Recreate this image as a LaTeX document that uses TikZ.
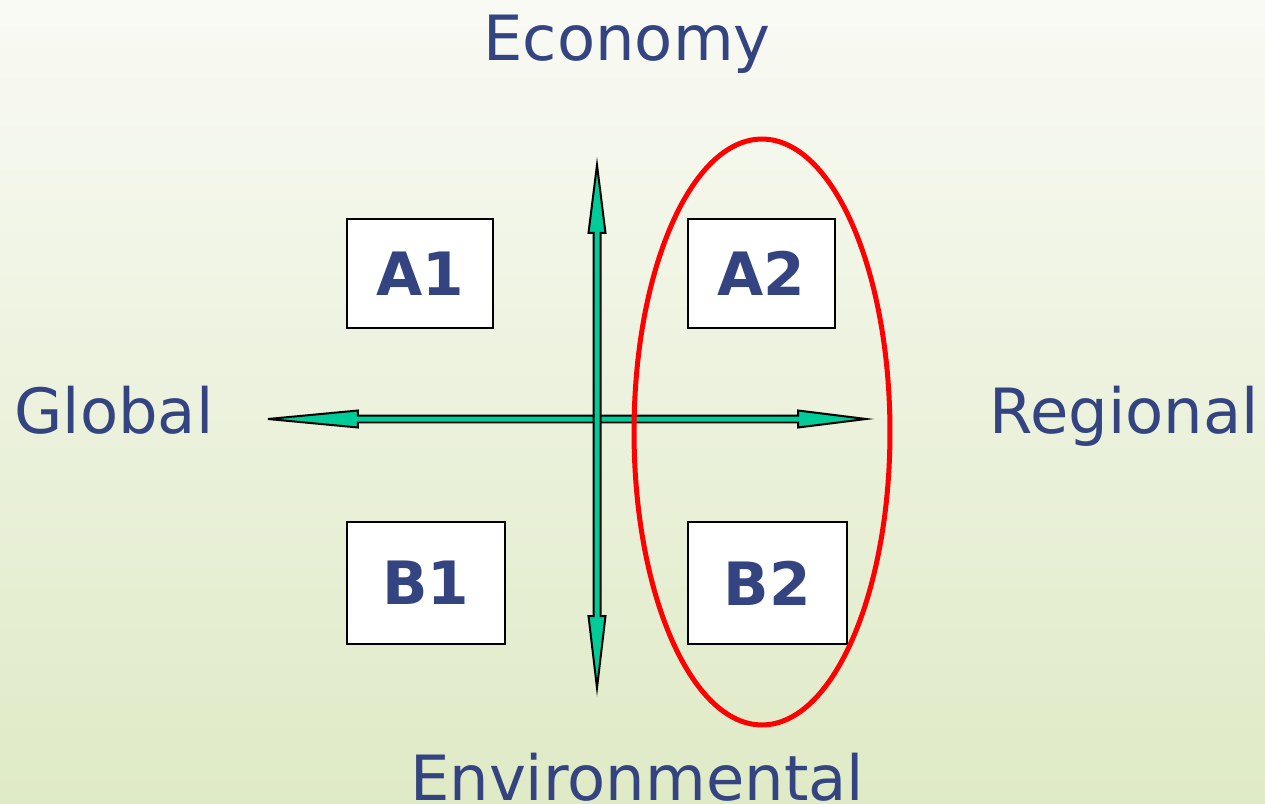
\documentclass[tikz,border=0pt]{standalone}
\usepackage{fontspec}
\setmainfont{DejaVu Sans}
\usetikzlibrary{calc,shapes.geometric}
\definecolor{labelblue}{HTML}{334480}
\definecolor{axisgreen}{HTML}{00CC99}
\definecolor{bgtop}{HTML}{F9FAF4}
\definecolor{bgbottom}{HTML}{DFEAC6}
\tikzset{
  axis label/.style={text=labelblue,font=\fontsize{35.5}{42}\selectfont,anchor=base},
  scen box/.style={draw,line width=0.04cm,fill=white,text=labelblue,
    font=\fontsize{34}{40}\selectfont\bfseries,inner sep=0pt},
  axis arrow/.style={fill=axisgreen,draw=black,line width=0.04cm,line join=miter},
}
% block arrow with a head at both ends: start, end, head length at start, head length at end
\newcommand{\blockarrow}[4]{%
  \filldraw[axis arrow] (#1)
    -- ($(#1)!#3!(#2)!0.17cm!90:(#2)$)
    -- ($(#1)!#3!(#2)!0.07cm!90:(#2)$)
    -- ($(#2)!#4!(#1)!0.07cm!-90:(#1)$)
    -- ($(#2)!#4!(#1)!0.17cm!-90:(#1)$)
    -- (#2)
    -- ($(#2)!#4!(#1)!0.17cm!90:(#1)$)
    -- ($(#2)!#4!(#1)!0.07cm!90:(#1)$)
    -- ($(#1)!#3!(#2)!0.07cm!-90:(#2)$)
    -- ($(#1)!#3!(#2)!0.17cm!-90:(#2)$)
    -- cycle;}

\begin{document}
\begin{tikzpicture}[x=0.02cm,y=-0.02cm]
    \shade[top color=bgtop,bottom color=bgbottom] (0,0) rectangle (1265,804);
    \useasboundingbox (0,0) rectangle (1265,804);

    % axis labels
    \node[axis label] (economy) at (627,61) {Economy};
    \node[axis label] (environ) at (637,800) {Environmental};
    \node[axis label] (global) at (114,433) {Global};
    \node[axis label] (regional) at (1124,433) {Regional};

    % arrows
    \coordinate (westtip) at (268,419);
    \coordinate (easttip) at (866,419);
    \coordinate (northtip) at (597,165);
    \coordinate (southtip) at (597,688);
    \blockarrow{westtip}{easttip}{1.8cm}{1.36cm}
    \blockarrow{northtip}{southtip}{1.36cm}{1.44cm}

    % scenario boxes
    \node[scen box,minimum width=2.92cm,minimum height=2.18cm] (A1) at (420,273.5) {A1};
    \node[scen box,minimum width=2.94cm,minimum height=2.18cm] (A2) at (761.5,273.5) {A2};
    \node[scen box,minimum width=3.16cm,minimum height=2.44cm] (B1) at (426,583) {B1};
    \node[scen box,minimum width=3.18cm,minimum height=2.44cm] (B2) at (767.5,583) {B2};

    \node[ellipse,draw=red,line width=0.1cm,minimum width=5.12cm,minimum height=11.72cm,inner sep=0pt] (regring) at (762,432) {};
\end{tikzpicture}
\end{document}
